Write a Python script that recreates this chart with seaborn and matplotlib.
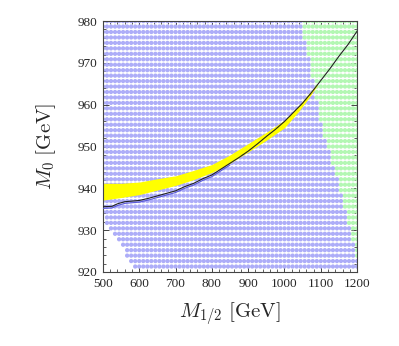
import numpy as np
import pandas as pd
import matplotlib
matplotlib.use("Agg")
import matplotlib.pyplot as plt
import seaborn as sns

# ---- scan grid (parameter scan) ----
m12_min, m12_max, m12_n = 500, 1200, 64      # 64 columns
m0_min, m0_max, m0_n = 921.3, 980, 46         # 46 rows

# lower-left region with no scan points: first M1/2 value present per M0 row
excl_m0 = [920, 921.5, 923, 924.5, 926, 927.5, 929, 930.5, 932, 933.5]
excl_m12 = [585, 578, 566, 562, 553, 538, 524, 512, 505, 500]

# green region (upper right): first M1/2 value of green points per M0 row
green_m0 = [920, 925, 930, 935, 940, 945, 950, 955, 960, 965, 970, 975, 980]
green_m12 = [1215, 1195, 1182, 1168, 1152, 1135, 1118, 1103, 1090, 1080, 1070, 1058, 1045]

# yellow band
band_m12 = [500, 550, 600, 650, 700, 750, 800, 850, 900, 950, 1000, 1040, 1070, 1090]
band_lo = [937.2, 937.8, 938.5, 939.6, 940.7, 942.1, 943.8, 946.0, 948.7, 951.5, 954.5, 958.5, 962.0, 964.6]
band_hi = [941.2, 941.2, 941.5, 942.3, 943.0, 944.3, 945.7, 948.0, 950.7, 953.4, 956.3, 959.8, 963.0, 965.0]

# black contour
line_m12 = [500, 525, 540, 560, 600, 625, 650, 675, 700, 725, 750, 775, 800, 825, 850, 875,
            900, 925, 950, 975, 1000, 1025, 1050, 1075, 1100, 1125, 1150, 1175, 1200]
line_m0 = [935.6, 935.7, 936.3, 936.8, 937.1, 937.6, 938.2, 938.8, 939.4, 940.4, 941.2, 942.3,
           943.2, 944.6, 946.0, 947.4, 948.9, 950.6, 952.4, 954.1, 956.0, 958.2, 960.4, 963.0,
           965.8, 968.6, 971.6, 974.4, 977.6]

# blue contour (lower part only)
blue_m12 = [500, 525, 540, 560, 600, 625, 650, 675, 700, 725, 750, 775, 800, 825, 850]
blue_m0 = [935.2, 935.3, 935.9, 936.4, 936.7, 937.2, 937.8, 938.4, 939.0, 940.0, 940.8, 941.9,
           942.8, 944.2, 945.6]

# ---- build point table ----
xs = np.linspace(m12_min, m12_max, m12_n)
ys = np.linspace(m0_min, m0_max, m0_n)
X, Y = np.meshgrid(xs, ys)
X = X.ravel(); Y = Y.ravel()
xmin_row = np.interp(Y, excl_m0, excl_m12)
keep = X >= xmin_row - 1e-6
X = X[keep]; Y = Y[keep]
gstart = np.interp(Y, green_m0, green_m12)
kind = np.where(X >= gstart, "green", "blue")
df = pd.DataFrame({"M12": X, "M0": Y, "kind": kind})

sns.set_style("ticks")
plt.rcParams["mathtext.fontset"] = "cm"

fig = plt.figure(figsize=(3.99, 3.46), dpi=100)
ax = fig.add_axes([0.258, 0.214, 0.637, 0.725])

sns.scatterplot(data=df, x="M12", y="M0", hue="kind",
                palette={"blue": "#adadf8", "green": "#b3f7b3"},
                s=9.5, linewidth=0, legend=False, ax=ax, zorder=1)

ax.fill_between(band_m12, band_lo, band_hi, color="#ffff00", linewidth=0, zorder=2)

sns.lineplot(x=blue_m12, y=blue_m0, color="#5a5ad8", lw=0.8, sort=False,
             estimator=None, ax=ax, zorder=3)
sns.lineplot(x=line_m12, y=line_m0, color="#222222", lw=0.8, sort=False,
             estimator=None, ax=ax, zorder=4)

ax.set_xlim(500, 1200)
ax.set_ylim(920, 980)
ax.set_xticks([500, 600, 700, 800, 900, 1000, 1100, 1200])
ax.set_yticks([920, 930, 940, 950, 960, 970, 980])
ax.xaxis.set_minor_locator(matplotlib.ticker.MultipleLocator(20))
ax.yaxis.set_minor_locator(matplotlib.ticker.MultipleLocator(2))
ax.tick_params(which="both", direction="in", top=True, right=True, color="#444444")
ax.tick_params(which="major", length=4, width=0.7, labelsize=9.5, pad=4)
ax.tick_params(which="minor", length=2, width=0.6)
for lab in ax.get_xticklabels() + ax.get_yticklabels():
    lab.set_fontfamily("Liberation Serif")
for sp in ax.spines.values():
    sp.set_color("#444444")
    sp.set_linewidth(0.8)

ax.set_xlabel(r"$M_{1/2}\ [\mathrm{GeV}]$", fontsize=15, labelpad=8)
ax.set_ylabel(r"$M_{0}\ [\mathrm{GeV}]$", fontsize=15, labelpad=14)

fig.savefig("out.png", dpi=100)
